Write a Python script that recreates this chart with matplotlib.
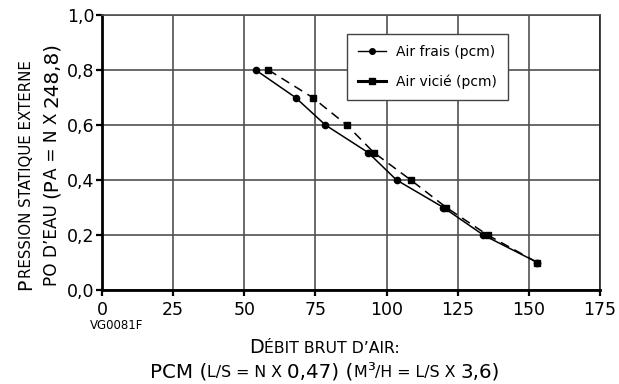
import matplotlib
matplotlib.use("Agg")
import matplotlib.pyplot as plt
from matplotlib.lines import Line2D
from matplotlib.font_manager import FontProperties

FAM = ['DejaVu Sans']
plt.rcParams['font.family'] = FAM

# ---- data ----
pression = [0.8, 0.7, 0.6, 0.5, 0.4, 0.3, 0.2, 0.1]
air_frais = [54, 68, 78.5, 93.5, 103.5, 120, 134, 153]
air_vicie = [58.5, 74, 86, 95.5, 108.5, 121, 135.5, 153]
x_ticks = [0, 25, 50, 75, 100, 125, 150, 175]
y_ticks = [0.0, 0.2, 0.4, 0.6, 0.8, 1.0]
y_tick_labels = ['0,0', '0,2', '0,4', '0,6', '0,8', '1,0']
legend_labels = ['Air frais (pcm)', 'Air vicié (pcm)']

W, H = 619, 384
fig = plt.figure(figsize=(W / 100, H / 100), dpi=100)
ax = fig.add_axes([102 / W, 1 - 290 / H, (600 - 102) / W, (290 - 15) / H])

grid_c = '#505050'
ax.set_xlim(0, 175)
ax.set_ylim(0, 1.0)
ax.set_xticks(x_ticks)
ax.set_xticklabels([str(v) for v in x_ticks])
ax.set_yticks(y_ticks)
ax.set_yticklabels(y_tick_labels)
ax.grid(True, color=grid_c, lw=1.2)
ax.set_axisbelow(True)
ax.tick_params(axis='both', direction='out', length=4, width=1.6, color='black',
               labelsize=12.5)
ax.tick_params(axis='x', pad=4.0)
ax.tick_params(axis='y', pad=1.5)
for s in ['left', 'bottom']:
    ax.spines[s].set_linewidth(2.0)
    ax.spines[s].set_color('black')
ax.spines['top'].set_color(grid_c)
ax.spines['top'].set_linewidth(1.2)
ax.spines['right'].set_color('#222222')
ax.spines['right'].set_linewidth(1.2)

ax.plot(air_frais, pression, color='black', lw=1.1, marker='o', ms=4.5, zorder=3)
ax.plot(air_vicie, pression, color='black', lw=1.1, ls=(0, (6, 4)), marker='s', ms=4.5, zorder=3)

handles = [Line2D([], [], color='black', lw=1.0, marker='o', ms=4),
           Line2D([], [], color='black', lw=2.2, marker='s', ms=5)]
leg = ax.legend(handles, legend_labels, loc='upper left',
                bbox_to_anchor=((347 - 102) / 498, (290 - 34) / 275),
                fontsize=10, frameon=True, fancybox=False, edgecolor='#444444',
                framealpha=1, handlelength=2.0, handletextpad=0.7,
                borderpad=0.8, labelspacing=1.1, borderaxespad=0)
leg.get_frame().set_linewidth(1.0)

fig.text(90 / W, 1 - 329 / H, 'VG0081F', fontsize=8.5, ha='left', va='baseline')


def rich(x, y, pieces, length, rotation=0):
    """Draw pieces (text, relative size) on one baseline, centred at (x, y) px,
    scaled so the whole line spans `length` px."""
    r = fig.canvas.get_renderer()

    def widths_for(scale):
        out = []
        for s, rel in pieces:
            fp = FontProperties(family=FAM, size=rel * scale)
            w1, _, _ = r.get_text_width_height_descent(s + '|', fp, ismath=False)
            w2, _, _ = r.get_text_width_height_descent('|', fp, ismath=False)
            out.append(w1 - w2)
        return out

    base = 10.0
    scale = base * length / sum(widths_for(base))
    widths = widths_for(scale)
    pos = -sum(widths) / 2
    for (s, rel), w in zip(pieces, widths):
        if rotation == 0:
            px, py = x + pos, y
        else:
            px, py = x, y + pos
        fig.text(px / W, py / H, s, fontsize=rel * scale, rotation=rotation,
                 rotation_mode='anchor', ha='left', va='baseline')
        pos += w


# x label
rich(324.5, H - 353, [('D', 1.0), ('ÉBIT BRUT D\u2019AIR:', 0.82)], 150)
rich(324.5, H - 377, [('PCM (', 1.0), ('L/S = N X ', 0.8), ('0,47) (', 1.0),
                      ('M', 0.8), ('³', 1.0), ('/H = L/S X ', 0.8), ('3,6)', 1.0)], 352)
# y label
rich(31, H - 175, [('P', 1.0), ('RESSION STATIQUE EXTERNE', 0.8)], 230, rotation=90)
rich(57, H - 164, [('PO D\u2019EAU ', 0.85), ('(P', 1.0), ('A', 0.85),
                   (' = N X ', 0.85), ('248,8)', 1.0)], 242, rotation=90)

fig.savefig('out.png', dpi=100)
